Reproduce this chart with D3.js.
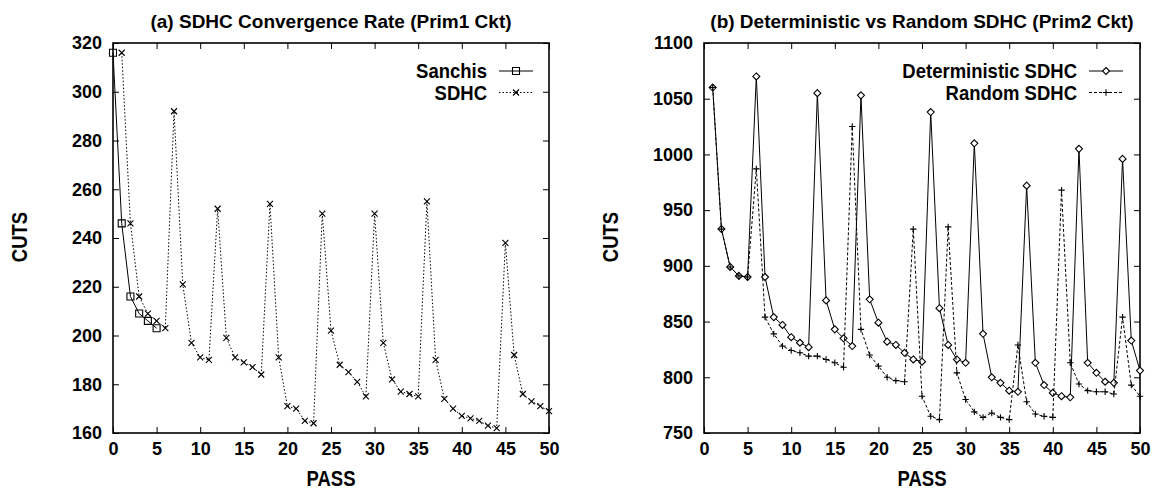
<!DOCTYPE html>
<html>
<head>
<meta charset="utf-8">
<script src="https://cdn.jsdelivr.net/npm/d3@7.9.0/dist/d3.min.js"></script>
<style>
  body { margin: 0; background: #fff; }
  svg text { font-family: "Liberation Sans", Arial, sans-serif; font-weight: bold; fill: #000; }
</style>
</head>
<body>
<svg id="chart" width="1156" height="494"></svg>
<script>
// panel (a) - Prim1
const sanchisPass = [0, 1, 2, 3, 4, 5];
const sanchisCuts = [316, 246, 216, 209, 206, 203];
const sdhcPass = d3.range(1, 51);
const sdhcCuts = [316, 246, 216, 209, 206, 203, 292, 221, 197, 191,
  190, 252, 199, 191, 189, 187, 184, 254, 191, 171,
  170, 165, 164, 250, 202, 188, 185, 181, 175, 250,
  197, 182, 177, 176, 175, 255, 190, 174, 170, 167,
  166, 165, 163, 162, 238, 192, 176, 173, 171, 169];

// panel (b) - Prim2
const primPass = d3.range(1, 51);
const detCuts = [1060, 933, 899, 891, 890, 1070, 890, 854, 847, 836,
  831, 827, 1055, 869, 843, 835, 828, 1053, 870, 849,
  832, 829, 822, 816, 814, 1038, 862, 829, 816, 813,
  1010, 839, 800, 795, 788, 787, 972, 813, 793, 786,
  783, 782, 1005, 813, 804, 796, 795, 996, 833, 806];
const randCuts = [1060, 933, 899, 891, 890, 987, 854, 839, 828, 824,
  822, 819, 819, 816, 813, 809, 1025, 843, 820, 810,
  800, 797, 796, 933, 783, 765, 762, 935, 804, 780,
  769, 764, 768, 764, 762, 829, 778, 767, 765, 764,
  968, 813, 794, 788, 787, 787, 785, 854, 793, 783];

const svg = d3.select("#chart");

// marker shapes
const mark = {
  square: s => `M${-s},${-s}H${s}V${s}H${-s}Z`,
  cross: s => `M${-s},${-s}L${s},${s}M${-s},${s}L${s},${-s}`,
  diamond: s => `M0,${-s}L${s},0L0,${s}L${-s},0Z`,
  plus: s => `M${-s},0H${s}M0,${-s}V${s}`
};

function panel(opts) {
  const x = d3.scaleLinear().domain([0, 50]).range([opts.x0, opts.x0 + 436]);
  const y = d3.scaleLinear().domain(opts.yDomain).range([433, 43]);
  const g = svg.append("g");

  g.append("g").attr("transform", `translate(${opts.x0},0)`)
    .call(d3.axisLeft(y).tickValues(opts.yTicks).tickFormat(d3.format("d")).tickSize(-6).tickPadding(11))
    .call(a => a.select(".domain").remove());
  g.append("g").attr("transform", `translate(${opts.x0 + 436},0)`)
    .call(d3.axisRight(y).tickValues(opts.yTicks).tickSize(-6).tickFormat(""))
    .call(a => a.select(".domain").remove());
  g.append("g").attr("transform", "translate(0,433)")
    .call(d3.axisBottom(x).tickValues(d3.range(0, 51, 5)).tickSize(-6).tickPadding(9))
    .call(a => a.select(".domain").remove());
  g.append("g").attr("transform", "translate(0,43)")
    .call(d3.axisTop(x).tickValues(d3.range(0, 51, 5)).tickSize(-6).tickFormat(""))
    .call(a => a.select(".domain").remove());

  g.selectAll(".tick line").attr("stroke", "#000").attr("stroke-width", 1);
  g.selectAll(".tick text").attr("font-size", 18).attr("font-family", "Liberation Sans, Arial")
    .attr("font-weight", "bold");

  g.append("rect")
    .attr("x", opts.x0).attr("y", 43).attr("width", 436).attr("height", 390)
    .attr("fill", "none").attr("stroke", "#000").attr("stroke-width", 1.6);

  g.append("text")
    .attr("x", opts.x0 + 218).attr("y", 28)
    .attr("text-anchor", "middle").attr("font-size", 19)
    .text(opts.title);

  g.append("text")
    .attr("transform", `translate(${opts.x0 + 218},486) scale(1,1.2)`)
    .attr("text-anchor", "middle").attr("font-size", 18.5)
    .text("PASS");

  g.append("text")
    .attr("transform", `translate(${opts.x0 - 86},237) rotate(-90) scale(1,1.2)`)
    .attr("text-anchor", "middle").attr("font-size", 18.5)
    .text("CUTS");

  const line = d3.line().x(d => x(d[0])).y(d => y(d[1]));

  opts.series.forEach((s, i) => {
    const pts = s.pass.map((p, k) => [p, s.cuts[k]]);
    g.append("path")
      .attr("d", line(pts))
      .attr("fill", "none").attr("stroke", "#000").attr("stroke-width", 1)
      .attr("stroke-dasharray", s.dash);
    g.selectAll(null).data(pts).join("path")
      .attr("transform", d => `translate(${x(d[0])},${y(d[1])})`)
      .attr("d", mark[s.marker](s.size))
      .attr("fill", s.fill).attr("stroke", "#000").attr("stroke-width", 1.1);

    // legend entry
    const ly = 71 + i * 21.5;
    const lx0 = opts.x0 + opts.legendX;
    g.append("text")
      .attr("transform", `translate(${lx0 - 12},${ly + 7}) scale(1,1.12)`)
      .attr("text-anchor", "end").attr("font-size", 18.5)
      .text(s.name);
    g.append("line")
      .attr("x1", lx0).attr("x2", lx0 + 34).attr("y1", ly).attr("y2", ly)
      .attr("stroke", "#000").attr("stroke-width", 1).attr("stroke-dasharray", s.dash);
    g.append("path")
      .attr("transform", `translate(${lx0 + 17},${ly})`)
      .attr("d", mark[s.marker](s.size))
      .attr("fill", s.fill).attr("stroke", "#000").attr("stroke-width", 1.1);
  });
}

panel({
  x0: 113,
  yDomain: [160, 320],
  yTicks: d3.range(160, 321, 20),
  title: "(a) SDHC Convergence Rate (Prim1 Ckt)",
  legendX: 386,
  series: [
    { name: "Sanchis", pass: sanchisPass, cuts: sanchisCuts, marker: "square", size: 3.5, fill: "none", dash: null },
    { name: "SDHC", pass: sdhcPass, cuts: sdhcCuts, marker: "cross", size: 3, fill: "none", dash: "1.5,2" }
  ]
});

panel({
  x0: 704,
  yDomain: [750, 1100],
  yTicks: d3.range(750, 1101, 50),
  title: "(b) Deterministic vs Random SDHC (Prim2 Ckt)",
  legendX: 385,
  series: [
    { name: "Deterministic SDHC", pass: primPass, cuts: detCuts, marker: "diamond", size: 3.5, fill: "#fff", dash: null },
    { name: "Random SDHC", pass: primPass, cuts: randCuts, marker: "plus", size: 3.2, fill: "none", dash: "3,2" }
  ]
});
</script>
</body>
</html>
